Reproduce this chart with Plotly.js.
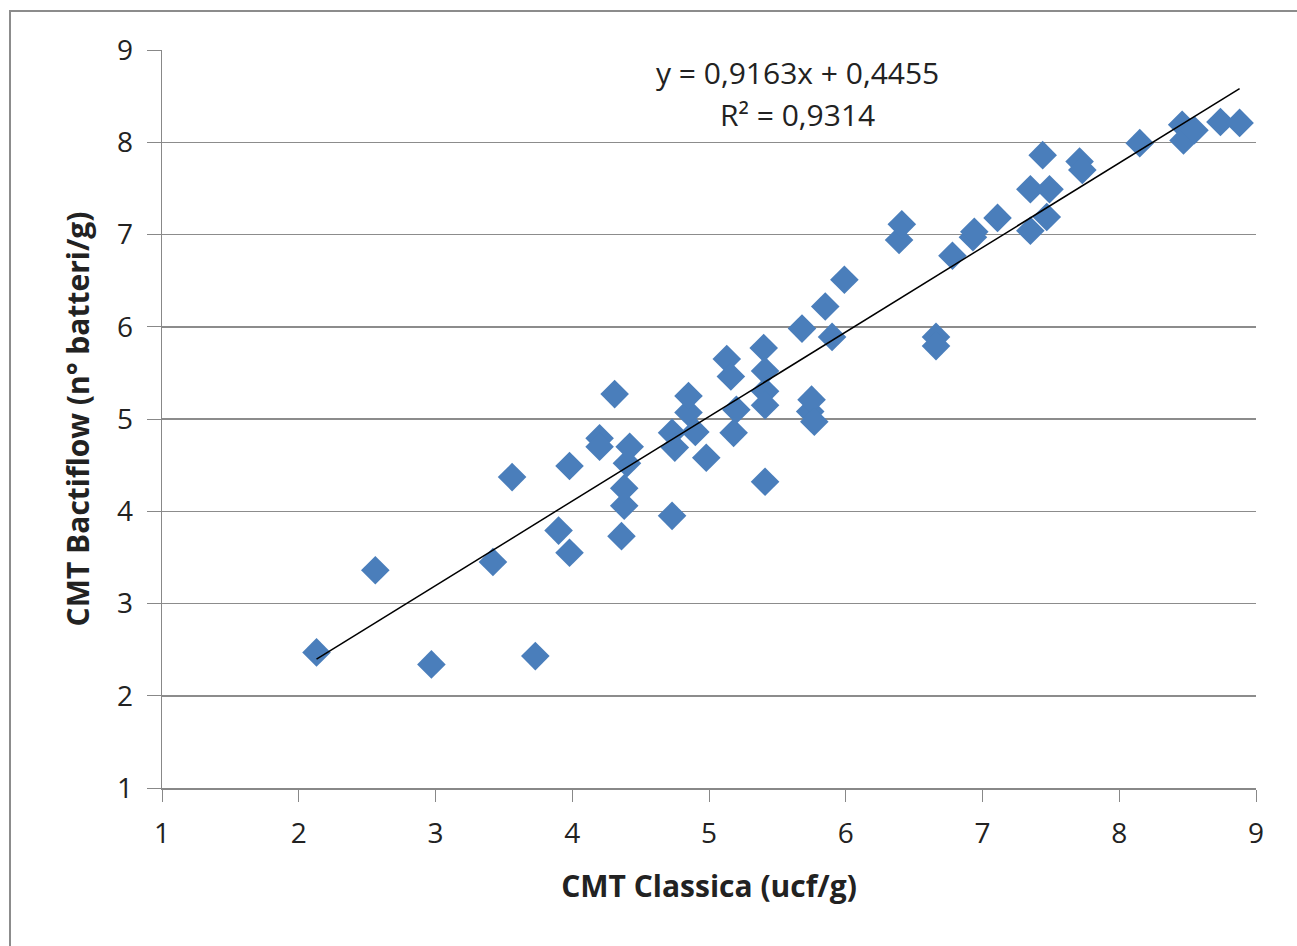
<!DOCTYPE html>
<html>
<head>
<meta charset="utf-8">
<script src="https://cdn.plot.ly/plotly-3.0.1.min.js"></script>
<style>html,body{margin:0;padding:0;background:#fff;}#chart{width:1297px;height:946px;}</style>
</head>
<body>
<div id="chart"></div>
<script>
const cmtClassica = [2.13,2.56,2.97,3.42,3.56,3.73,3.90,3.98,3.98,4.20,4.20,4.31,4.36,4.38,4.38,4.40,4.42,4.73,4.73,4.75,4.85,4.85,4.90,4.98,5.13,5.16,5.18,5.20,5.40,5.41,5.41,5.41,5.41,5.68,5.74,5.75,5.77,5.85,5.90,5.99,6.39,6.41,6.66,6.66,6.78,6.93,6.94,7.11,7.35,7.35,7.44,7.47,7.49,7.71,7.73,8.15,8.46,8.47,8.55,8.74,8.88];
const cmtBactiflow = [2.47,3.36,2.34,3.45,4.37,2.43,3.79,3.55,4.49,4.79,4.70,5.27,3.73,4.06,4.25,4.52,4.70,3.95,4.85,4.69,5.07,5.25,4.86,4.58,5.65,5.46,4.85,5.10,5.77,5.52,5.30,5.15,4.32,5.98,5.08,5.21,4.97,6.22,5.89,6.51,6.94,7.11,5.89,5.79,6.77,6.97,7.03,7.18,7.04,7.49,7.86,7.19,7.49,7.79,7.70,7.99,8.19,8.02,8.13,8.22,8.21];
const slope = 0.9163, intercept = 0.4455;
const eqText = "y = 0,9163x + 0,4455";
const r2Text = "R² = 0,9314";
const tickVals = [1,2,3,4,5,6,7,8,9];
const xTitle = "CMT Classica (ucf/g)";
const yTitle = "CMT Bactiflow (n° batteri/g)";

const xMin = Math.min(...cmtClassica), xMax = Math.max(...cmtClassica);
const trendX = [xMin, xMax];
const trendY = trendX.map(v => slope*v + intercept);

const font = "Open Sans, Noto Sans, sans-serif";
const data = [
  {x: cmtClassica, y: cmtBactiflow, type: 'scatter', mode: 'markers',
   marker: {symbol: 'diamond', size: 22, color: '#4A7EBB'}, showlegend: false, hoverinfo: 'x+y'},
  {x: trendX, y: trendY, type: 'scatter', mode: 'lines',
   line: {color: '#000', width: 1.5}, showlegend: false, hoverinfo: 'skip'}
];
const W = 1297, H = 946, L = 162, R = 41, T = 50, B = 158;
const pw = W - L - R, ph = H - T - B;
const layout = {
  width: W, height: H,
  margin: {l: L, r: R, t: T, b: B},
  paper_bgcolor: '#fff', plot_bgcolor: '#fff',
  font: {family: font, color: '#222'},
  xaxis: {range: [1, 9], tickvals: tickVals, ticks: 'outside', ticklen: 12, tickcolor: '#888',
    showline: true, linecolor: '#888', linewidth: 1.5, showgrid: false, zeroline: false,
    ticklabelstandoff: 8,
    tickfont: {size: 28, family: font, color: '#222'},
    title: {text: xTitle, font: {size: 30, family: font, color: '#222', weight: 'bold'}, standoff: 26}},
  yaxis: {range: [1, 9], tickvals: tickVals, ticks: 'outside', ticklen: 14, tickcolor: '#888',
    showline: true, linecolor: '#888', linewidth: 1.5, showgrid: true, gridcolor: '#8c8c8c', gridwidth: 1.5, zeroline: false,
    ticklabelstandoff: 8,
    tickfont: {size: 28, family: font, color: '#222'},
    title: {text: yTitle, font: {size: 30, family: font, color: '#222', weight: 'bold'}, standoff: 18}},
  annotations: [
    {text: eqText, xref: 'paper', yref: 'paper', x: (797 - L)/pw, y: 1 - (72 - T)/ph, showarrow: false,
     font: {size: 30, family: font, color: '#222'}, xanchor: 'center', yanchor: 'middle'},
    {text: r2Text, xref: 'paper', yref: 'paper', x: (797 - L)/pw, y: 1 - (114 - T)/ph, showarrow: false,
     font: {size: 30, family: font, color: '#222'}, xanchor: 'center', yanchor: 'middle'}
  ],
  shapes: [
    {type: 'rect', xref: 'paper', yref: 'paper', x0: (10 - L)/pw, x1: (1300 - L)/pw,
     y0: 1 - (950 - T)/ph, y1: 1 - (11 - T)/ph, line: {color: '#8c8c8c', width: 2}, layer: 'below'}
  ]
};
Plotly.newPlot('chart', data, layout, {displayModeBar: false, staticPlot: true});
</script>
</body>
</html>
